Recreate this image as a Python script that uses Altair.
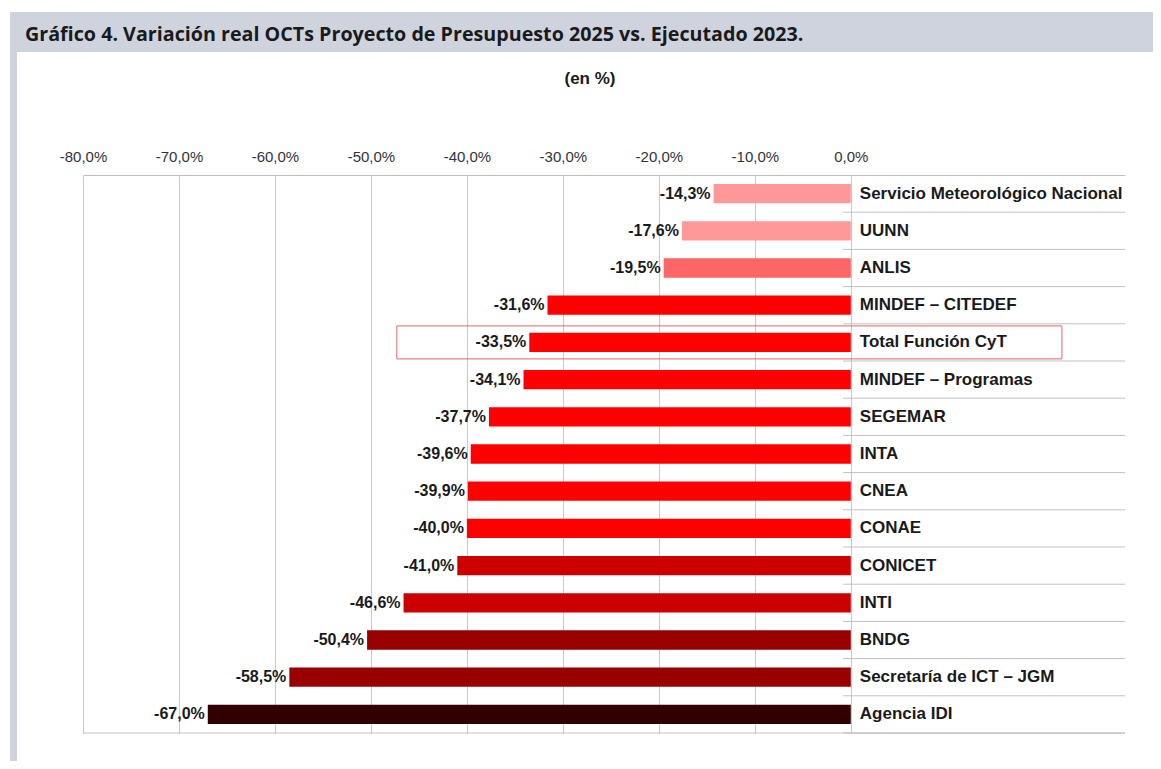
import altair as alt
import pandas as pd

# ---- data ----
categories = [
    "Servicio Meteorológico Nacional", "UUNN", "ANLIS", "MINDEF – CITEDEF",
    "Total Función CyT", "MINDEF – Programas", "SEGEMAR", "INTA", "CNEA",
    "CONAE", "CONICET", "INTI", "BNDG", "Secretaría de ICT – JGM", "Agencia IDI",
]
values = [-14.3, -17.6, -19.5, -31.6, -33.5, -34.1, -37.7, -39.6, -39.9,
          -40.0, -41.0, -46.6, -50.4, -58.5, -67.0]
bar_colors = ["#ff9999", "#ff9999", "#ff6666", "#ff0000", "#ff0000", "#ff0000",
              "#ff0000", "#ff0000", "#ff0000", "#ff0000", "#cc0000", "#cc0000",
              "#990000", "#990000", "#330000"]
tick_values = [-80, -70, -60, -50, -40, -30, -20, -10, 0]
highlight = "Total Función CyT"
title_text = "Gráfico 4. Variación real OCTs Proyecto de Presupuesto 2025 vs. Ejecutado 2023."
subtitle_text = "(en %)"

df = pd.DataFrame({
    "cat": categories,
    "value": values,
    "color": bar_colors,
    "label": [f"{v:.1f}%".replace(".", ",") for v in values],
})

# ---- layout ----
W, H = 1042, 558
XMAX = 28.57
FONT = "Liberation Sans"

x_scale = alt.Scale(domain=[-80, XMAX], nice=False, zero=False)
y_scale = alt.Scale(domain=categories, paddingInner=0.48, paddingOuter=0.24)

base = alt.Chart(df)
one = alt.Chart(pd.DataFrame({"k": [0]}))

x_axis = alt.Axis(
    orient="top", values=tick_values, title=None,
    labelExpr="replace(replace(format(datum.value, '.1f'), '.', ','), '\u2212', '-') + '%'",
    ticks=False, labelPadding=11, labelFont=FONT, labelFontSize=15,
    labelColor="#333333", labelFlush=False, labelOverlap=False,
    domainColor="#c0c0c0", gridColor="#c8c8c8", grid=True,
)

# frame decorations
title_bar = one.mark_rect(color="#cfd3de").encode(
    x=alt.value(-73), x2=alt.value(W + 30), y=alt.value(-163), y2=alt.value(-123))
left_bar = one.mark_rect(color="#cfd3de").encode(
    x=alt.value(-73), x2=alt.value(-66), y=alt.value(-123), y2=alt.value(H + 40))
title = one.mark_text(align="left", baseline="alphabetic", font="Open Sans",
                      fontWeight="bold", fontSize=19.7, color="#1a1a1a").encode(
    x=alt.value(-58), y=alt.value(-134), text=alt.datum(title_text))
subtitle = one.mark_text(align="center", baseline="middle", font=FONT,
                         fontWeight="bold", fontSize=17, color="#1a1a1a").encode(
    x=alt.value(507), y=alt.value(-96), text=alt.datum(subtitle_text))

bars = base.mark_bar().encode(
    x=alt.X("value:Q", scale=x_scale, axis=x_axis),
    x2=alt.datum(0),
    y=alt.Y("cat:N", scale=y_scale, axis=None, sort=categories),
    color=alt.Color("color:N", scale=None),
)

separators = base.mark_rule(color="#c0c0c0", yOffset=18.6).encode(
    x=alt.datum(-0.8), x2=alt.datum(XMAX),
    y=alt.Y("cat:N", bandPosition=0.5),
)

bottom_line = one.mark_rule(color="#c0c0c0").encode(
    x=alt.datum(-80), x2=alt.datum(XMAX), y=alt.value(H))

value_labels = base.mark_text(align="right", baseline="middle", dx=-3,
                              font=FONT, fontWeight="bold", fontSize=16,
                              color="#1a1a1a").encode(
    x="value:Q", y=alt.Y("cat:N", bandPosition=0.5), text="label:N")

cat_labels = base.mark_text(align="left", baseline="middle", dx=9,
                            font=FONT, fontWeight="bold", fontSize=17,
                            color="#1a1a1a").encode(
    x=alt.datum(0), y=alt.Y("cat:N", bandPosition=0.5), text="cat:N")

box = base.transform_filter(alt.datum.cat == highlight).mark_bar(
    size=33, filled=False, stroke="#e06666", strokeWidth=1).encode(
    x=alt.datum(-47.3), x2=alt.datum(22), y="cat:N")

chart = alt.layer(
    title_bar, left_bar, title, subtitle,
    bars, separators, bottom_line, value_labels, cat_labels, box,
).properties(
    width=W, height=H,
    autosize=alt.AutoSizeParams(type="none"),
    padding={"left": 75, "top": 167, "right": 28, "bottom": 28},
    background="white",
).configure_view(stroke=None)

chart.save("out.html", embed_options={"renderer": "svg", "actions": False})
